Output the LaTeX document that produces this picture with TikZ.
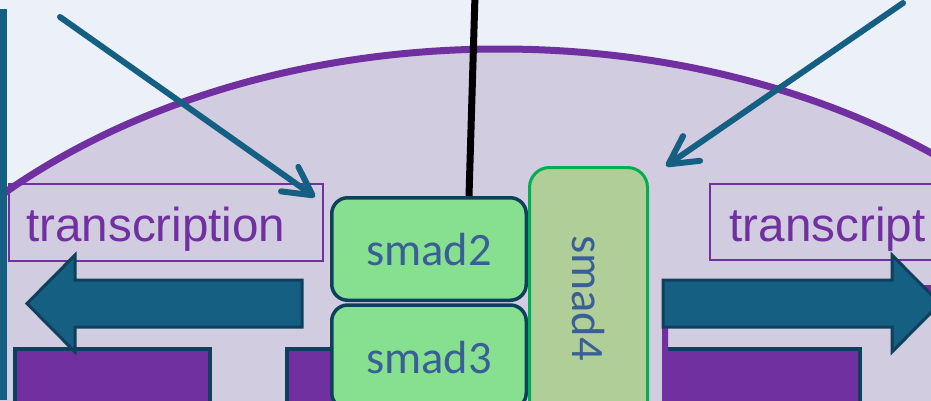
\documentclass[tikz,border=0pt]{standalone}
\usepackage{fontspec}
\setmainfont{Liberation Sans}
\newfontfamily\smadfont{Carlito}
\usetikzlibrary{arrows.meta}

\definecolor{bgpale}{RGB}{236,241,249}
\definecolor{cellfill}{RGB}{210,204,225}
\definecolor{cellpurple}{RGB}{112,48,160}
\definecolor{signalteal}{RGB}{21,96,130}
\definecolor{deepline}{RGB}{14,64,92}
\definecolor{leafgreen}{RGB}{134,224,143}
\definecolor{olivegreen}{RGB}{176,206,152}
\definecolor{brightgreen}{RGB}{0,176,80}
\definecolor{smadtext}{RGB}{58,94,150}

\begin{document}
\begin{tikzpicture}[x=1pt,y=-1pt,
  smadbox/.style={draw=deepline, line width=3.5pt, fill=leafgreen,
    rounded corners=16pt, minimum width=194.5pt, inner sep=0pt,
    text=smadtext, font=\smadfont\fontsize{46.5}{55}\selectfont,
    text height=32pt, text depth=0pt},
  partnerbox/.style={smadbox, draw=brightgreen, line width=3pt,
    fill=olivegreen, rounded corners=20pt},
  tbox/.style={draw=cellpurple, line width=2pt, inner sep=0pt},
  tlabel/.style={text=cellpurple, inner sep=0pt,
    font=\fontsize{47.6}{56}\selectfont},
  plate/.style={fill=cellpurple, draw=deepline, line width=4pt},
  blockarrow/.style={fill=signalteal, draw=deepline, line width=3pt},
  signal/.style={draw=signalteal, line width=6pt, line cap=round,
    -{Straight Barb[length=28pt,width=30pt,round]}},
  stalkline/.style={draw=black, line width=7pt}]

\useasboundingbox (0,0) rectangle (931,400);
\clip (0,0) rectangle (931,400);
\fill[bgpale] (0,0) rectangle (931,400);

% cell body
\draw[draw=cellpurple, line width=7pt, fill=cellfill]
  (500,539) ellipse [x radius=700pt, y radius=490pt];

% left membrane bar
\fill[signalteal] (0,9) rectangle (7,400);

% transcription labels
\node[tbox, minimum width=314pt, minimum height=77pt] (tboxL) at (166,222.5) {};
\node[tlabel, anchor=base west] (tlabL) at (26,241) {transcription};
\node[tbox, minimum width=300pt, minimum height=76pt] (tboxR) at (860,222) {};
\node[tlabel, anchor=base west] (tlabR) at (729.5,241) {transcript};

% DNA plates
\draw[plate] (15,349) rectangle (210,410);
\draw[plate] (287,349) rectangle (345,410);
\draw[plate] (664,349) rectangle (860,410);
\fill[cellpurple] (662,285) -- (940,285) -- (940,293) -- (668,293)
  -- (668,410) -- (662,410) -- cycle;

% transcription direction arrows
\draw[blockarrow] (302,280) -- (75,280) -- (75,255) -- (27,303.5)
  -- (75,352) -- (75,327) -- (302,327) -- cycle;
\draw[blockarrow] (663,280) -- (892,280) -- (892,255) -- (940,303.5)
  -- (892,352) -- (892,327) -- (663,327) -- cycle;

% smad complex
\node[smadbox, minimum height=102.5pt] (smad2) at (429,249) {smad2};
\node[smadbox, minimum height=104pt] (smad3) at (429,357) {smad3};
\node[partnerbox, rotate=-90, minimum width=261pt, minimum height=118pt]
  (smad4) at (588.5,298) {smad4};

% receptor stalk
\coordinate (stalk) at (475,-5);
\draw[stalkline] (stalk) -- ([xshift=40pt]smad2.north);

% incoming signals
\coordinate (sigL0) at (60,17);
\coordinate (sigL1) at (315,197);
\draw[signal] (sigL0) -- (sigL1);
\coordinate (sigR0) at (903,3);
\coordinate (sigR1) at (666,166);
\draw[signal] (sigR0) -- (sigR1);
\end{tikzpicture}
\end{document}
